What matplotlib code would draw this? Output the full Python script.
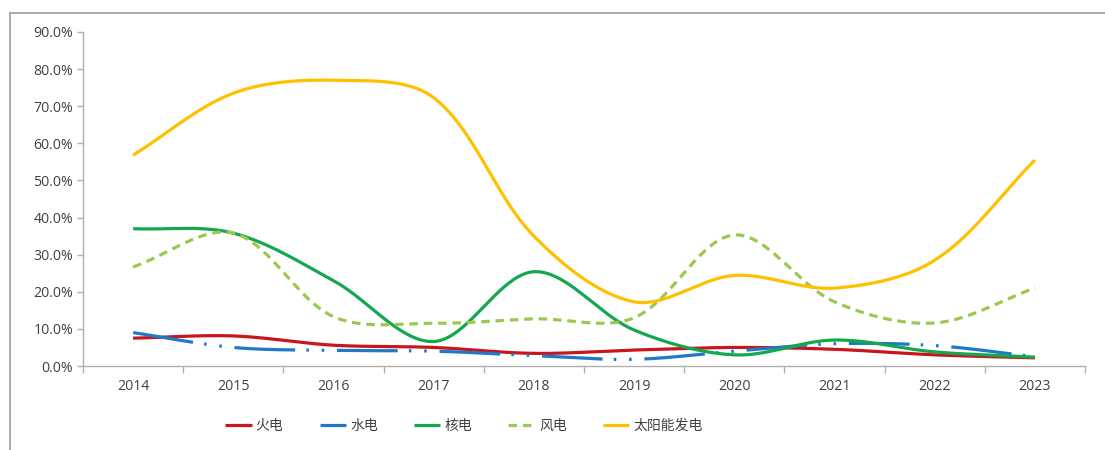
import numpy as np
import matplotlib
matplotlib.use("Agg")
import matplotlib.pyplot as plt
from matplotlib.patches import Rectangle
from matplotlib.ticker import FixedLocator, PercentFormatter

plt.rcParams['font.family'] = ['Noto Sans CJK SC', 'DejaVu Sans']

years = ['2014', '2015', '2016', '2017', '2018', '2019', '2020', '2021', '2022', '2023']
thermal = [7.5, 8.1, 5.6, 5.0, 3.4, 4.3, 5.0, 4.5, 3.0, 2.2]
hydro = [9.0, 5.0, 4.2, 4.0, 2.8, 1.8, 4.0, 6.0, 5.5, 2.5]
nuclear = [37.0, 35.8, 23.0, 6.6, 25.4, 9.7, 3.0, 7.0, 3.8, 2.4]
wind = [26.7, 35.8, 13.3, 11.5, 12.7, 13.0, 35.3, 17.3, 11.6, 21.0]
solar = [56.8, 73.5, 77.0, 72.3, 35.0, 17.3, 24.4, 21.0, 28.5, 55.5]

series_names = ['火电', '水电', '核电', '风电', '太阳能发电']

# screen scale used for the smoothing (pixels per category / per percent)
PX_X, PX_Y = 100.2, 3.71


def smooth(xs, ys, n=40):
    """Bezier smoothing with tangents weighted by neighbouring segment lengths."""
    p = np.column_stack([np.asarray(xs, float) * PX_X, np.asarray(ys, float) * PX_Y])
    p = np.vstack([p[0], p, p[-1]])
    out = []
    for i in range(1, len(p) - 2):
        p0, p1, p2, p3 = p[i - 1], p[i], p[i + 1], p[i + 2]
        d01 = np.hypot(*(p1 - p0))
        d12 = np.hypot(*(p2 - p1))
        d23 = np.hypot(*(p3 - p2))
        f1 = (2 / 6) * d12 / (d01 + d12) if d01 + d12 > 0 else 0
        f2 = (2 / 6) * d12 / (d12 + d23) if d12 + d23 > 0 else 0
        c1 = p1 + (p2 - p0) * f1
        c2 = p2 - (p3 - p1) * f2
        t = np.linspace(0, 1, n, endpoint=(i == len(p) - 3))[:, None]
        seg = ((1 - t) ** 3) * p1 + 3 * ((1 - t) ** 2) * t * c1 + 3 * (1 - t) * t ** 2 * c2 + t ** 3 * p2
        out.append(seg)
    out = np.vstack(out)
    return out[:, 0] / PX_X, out[:, 1] / PX_Y


fig = plt.figure(figsize=(11.05, 4.5), dpi=100)
fig.patches.append(Rectangle((10 / 1105, -0.05), 1.2, 1 - 13 / 450 + 0.05,
                             transform=fig.transFigure, fill=False,
                             edgecolor='#a6a6a6', linewidth=1.3))

ax = fig.add_axes([83 / 1105, 1 - 366 / 450, (1085 - 83) / 1105, (366 - 32) / 450])

x = np.arange(len(years))
styles = [
    dict(color='#c8161d', linestyle='-'),
    dict(color='#1f78c8', linestyle=(0, (19, 3.5, 0.8, 4, 0.8, 4))),
    dict(color='#13a850', linestyle='-'),
    dict(color='#9cc850', linestyle=(0, (2.7, 1.8))),
    dict(color='#ffc000', linestyle='-'),
]
for vals, name, st in zip([thermal, hydro, nuclear, wind, solar], series_names, styles):
    sx, sy = smooth(x, vals)
    ax.plot(sx, sy / 100.0, linewidth=2.3, solid_capstyle='butt', dash_capstyle='butt',
            label=name, **st)

ax.set_xlim(-0.5, len(years) - 0.5)
ax.set_ylim(0, 0.9)
ax.set_yticks(np.arange(0, 0.91, 0.1))
ax.yaxis.set_major_formatter(PercentFormatter(1.0, decimals=1))
ax.set_xticks(x)
ax.set_xticklabels(years)
ax.xaxis.set_minor_locator(FixedLocator(np.arange(-0.5, len(years), 1.0)))

for s in ['top', 'right']:
    ax.spines[s].set_visible(False)
for s in ['left', 'bottom']:
    ax.spines[s].set_color('#b0b0b0')
    ax.spines[s].set_linewidth(1.0)

ax.tick_params(axis='y', which='major', length=4, width=1, color='#b0b0b0',
               labelcolor='#404040', pad=3)
ax.tick_params(axis='x', which='major', length=0, labelcolor='#404040', pad=9)
ax.tick_params(axis='x', which='minor', length=5, width=1, color='#b0b0b0')
for lbl in ax.get_xticklabels() + ax.get_yticklabels():
    lbl.set_family(['Open Sans', 'DejaVu Sans'])
    lbl.set_fontsize(10.2)

leg = fig.legend(loc='center', bbox_to_anchor=(464 / 1105, 1 - 426 / 450), ncol=5,
                 frameon=False, fontsize=10, handlelength=1.9, handletextpad=0.3,
                 columnspacing=2.6)
for t in leg.get_texts():
    t.set_color('#404040')

fig.savefig('out.png', dpi=100, facecolor='white')
